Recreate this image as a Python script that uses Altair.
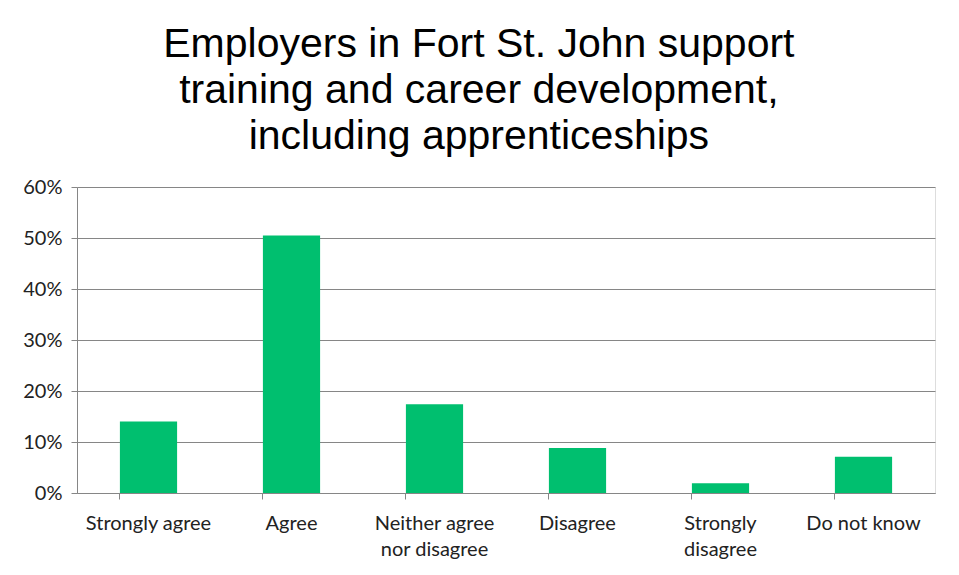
import altair as alt
import pandas as pd

categories = ["Strongly agree", "Agree", "Neither agree nor disagree", "Disagree",
              "Strongly disagree", "Do not know"]
values = [0.140, 0.505, 0.174, 0.088, 0.019, 0.071]

df = pd.DataFrame({"category": categories, "value": values})

title_lines = ["Employers in Fort St. John support",
               "training and career development,",
               "including apprenticeships"]

label_expr = ("datum.label == 'Neither agree nor disagree' ? ['Neither agree', 'nor disagree'] : "
              "datum.label == 'Strongly disagree' ? ['Strongly', 'disagree'] : datum.label")

chart = alt.Chart(df).mark_bar(color="#00BF6F").encode(
    x=alt.X("category:N", sort=categories, title=None,
            scale=alt.Scale(paddingInner=0.6, paddingOuter=0.3),
            axis=alt.Axis(labelAngle=0, labelExpr=label_expr, bandPosition=0,
                          tickColor="#868686", domainColor="#868686", tickSize=6,
                          labelFont="Lato", labelFontSize=20, labelColor="#222222",
                          labelPadding=14, labelLineHeight=26, grid=False)),
    y=alt.Y("value:Q", title=None,
            scale=alt.Scale(domain=[0, 0.6]),
            axis=alt.Axis(format=".0%", values=[0, 0.1, 0.2, 0.3, 0.4, 0.5, 0.6],
                          tickColor="#868686", domainColor="#868686", tickSize=6,
                          gridColor="#868686", gridWidth=1,
                          labelFont="Lato", labelFontSize=20, labelColor="#222222",
                          labelPadding=9)),
).properties(
    width=858, height=306,
    title=alt.TitleParams(text=title_lines, font="Liberation Sans", fontSize=41,
                          fontWeight="normal", color="#000000", lineHeight=46,
                          anchor="middle", frame="bounds", offset=19),
    padding={"left": 14, "top": 16, "right": 16, "bottom": 10},
).configure_view(stroke=None).configure(background="white")

chart.save("out.html", embed_options={"renderer": "svg", "actions": False})
